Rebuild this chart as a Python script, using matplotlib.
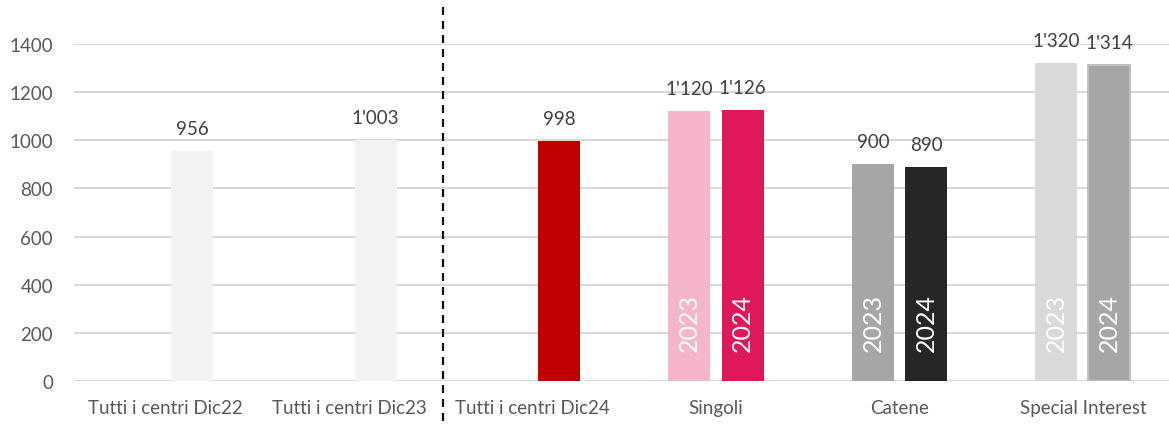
import matplotlib
matplotlib.use("Agg")
import matplotlib.pyplot as plt
import matplotlib.transforms as mtransforms
import numpy as np

categories = ["Tutti i centri Dic22", "Tutti i centri Dic23", "Tutti i centri Dic24",
              "Singoli", "Catene", "Special Interest"]
values_2023 = [None, None, None, 1120, 900, 1320]
values_2024 = [956, 1003, 998, 1126, 890, 1314]
inner_2023 = [None, None, None, "2023", "2023", "2023"]
inner_2024 = [None, None, None, "2024", "2024", "2024"]
colors_2023 = [None, None, None, "#F4B6C8", "#A6A6A6", "#D9D9D9"]
colors_2024 = ["#F2F2F2", "#F2F2F2", "#C00000", "#E0185A", "#262626", "#A6A6A6"]
edges_2024 = ["none", "none", "none", "none", "none", "#BFBFBF"]
yticks = [0, 200, 400, 600, 800, 1000, 1200, 1400]

plt.rcParams['font.family'] = ['Lato', 'DejaVu Sans']

W, H = 1169, 427
fig = plt.figure(figsize=(W / 100, H / 100), dpi=100)
left_px, right_px, bottom_px, top_px = 73.8, 1174.7, 382, 45
ax = fig.add_axes([left_px / W, (H - bottom_px) / H,
                   (right_px - left_px) / W, (bottom_px - top_px) / H])

x = np.arange(len(categories))
bw = 0.229
off = 0.1446
FS = 13.5

def fmt(v):
    return f"{v:,}".replace(",", "'")

for i in range(len(categories)):
    if values_2023[i] is not None:
        ax.bar(x[i] - off, values_2023[i], width=bw, color=colors_2023[i], zorder=2)
        ax.annotate(fmt(values_2023[i]), (x[i] - off, values_2023[i]), xytext=(0, 16.2),
                    textcoords="offset points", ha="center", va="center",
                    fontsize=FS, color="#404040", annotation_clip=False)
        ax.annotate(inner_2023[i], (x[i] - off, 0), xytext=(0, 21.5),
                    textcoords="offset points", ha="center", va="bottom",
                    rotation=90, fontsize=18, color="white")
    ax.bar(x[i] + off, values_2024[i], width=bw, color=colors_2024[i],
           edgecolor=edges_2024[i], linewidth=1.5, zorder=2)
    ax.annotate(fmt(values_2024[i]), (x[i] + off, values_2024[i]), xytext=(0, 16.2),
                textcoords="offset points", ha="center", va="center",
                fontsize=FS, color="#404040", annotation_clip=False)
    if inner_2024[i] is not None:
        ax.annotate(inner_2024[i], (x[i] + off, 0), xytext=(0, 21.5),
                    textcoords="offset points", ha="center", va="bottom",
                    rotation=90, fontsize=18, color="white")

ax.set_xlim(-0.5, len(categories) - 0.5)
ax.set_ylim(0, 1400)
ax.set_yticks(yticks)
ax.set_yticklabels([str(t) for t in yticks])
ax.set_xticks(x)
ax.set_xticklabels(categories)
ax.tick_params(axis="both", length=0, labelsize=FS, labelcolor="#595959")
ax.tick_params(axis="y", pad=15)
ax.tick_params(axis="x", pad=13)
ax.grid(axis="y", color="#D9D9D9", linewidth=1.5, zorder=0)
ax.set_axisbelow(True)
for s in ax.spines.values():
    s.set_visible(False)

# dashed separator line
trans = mtransforms.blended_transform_factory(ax.transData, fig.transFigure)
ax.plot([1.51, 1.51], [(H - 422) / H, (H - 8) / H], transform=trans,
        color="#111111", linewidth=1.6, linestyle=(0, (3.6, 2.7)), clip_on=False, zorder=5)

fig.savefig("out.png", dpi=100)
